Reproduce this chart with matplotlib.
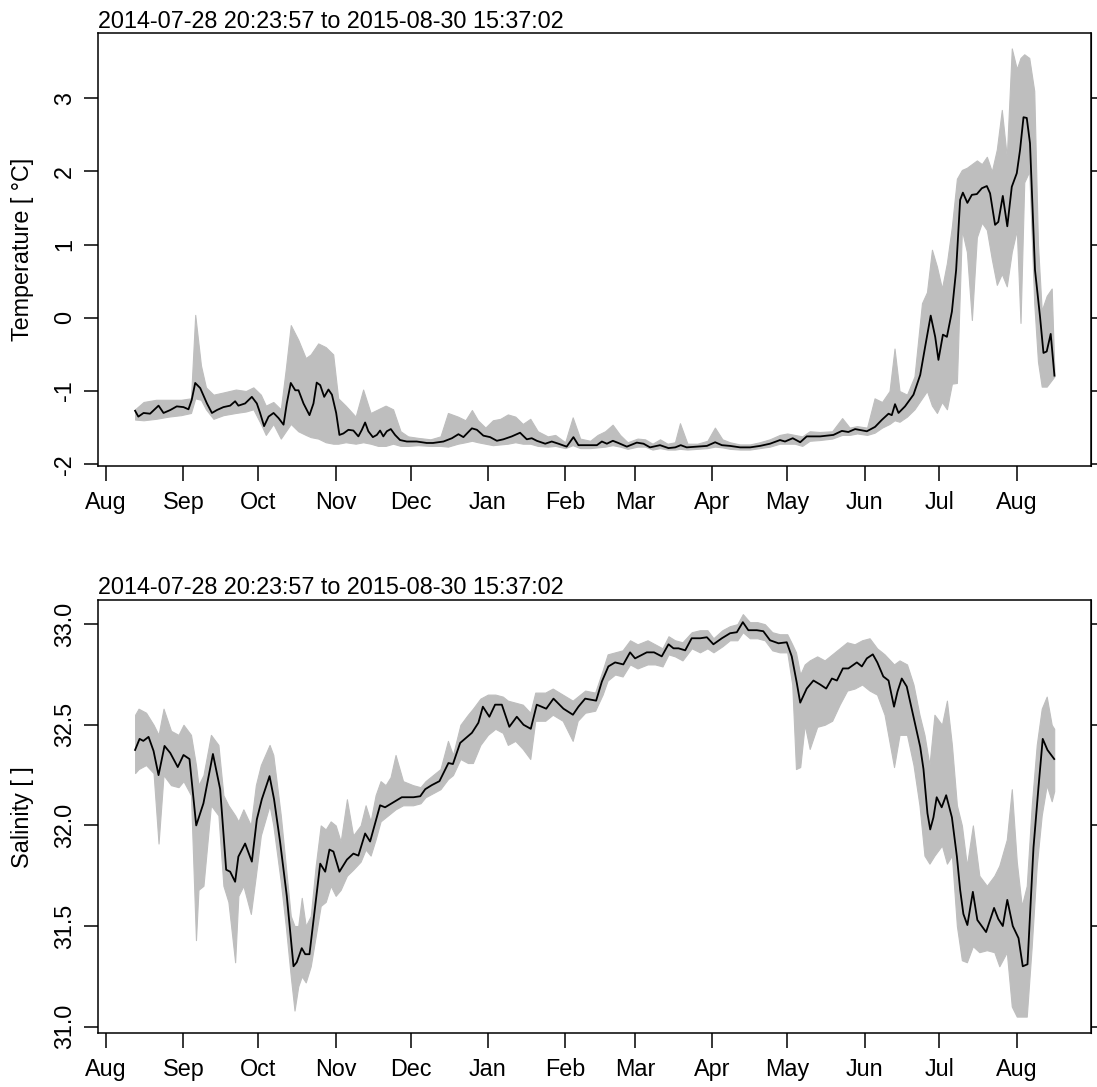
import numpy as np
import matplotlib
matplotlib.use("Agg")
import matplotlib.pyplot as plt
import matplotlib.dates as mdates
from matplotlib.ticker import FixedLocator, FormatStrFormatter

plt.rcParams["font.family"] = ["Liberation Sans", "DejaVu Sans"]
FS = 16.8

# ---- data: days since 2014-08-01 ----
BASE = np.datetime64("2014-08-01T00:00:00")
T_START = np.datetime64("2014-07-28T20:23:57")
T_END = np.datetime64("2015-08-30T15:37:02")
TITLE = "2014-07-28 20:23:57 to 2015-08-30 15:37:02"

# smoothed temperature
temp_day = [11.6, 12.9, 15.0, 17.6, 21.0, 23.0, 25.7, 28.3, 31.0, 33.0, 34.3, 35.7, 37.7,
            40.4, 42.4, 44.4, 47.0, 49.7, 51.7, 53.0, 55.7, 58.4, 60.4, 61.7, 63.3, 65.1,
            67.1, 69.1, 71.1, 72.4, 74.0, 75.8, 77.1, 79.1, 81.5, 83.1, 84.4, 85.8, 87.4,
            89.1, 90.5, 92.2, 93.5, 95.1, 97.1, 99.1, 101.1, 102.5, 103.8, 105.1, 106.9,
            108.5, 109.8, 111.1, 112.5, 114.1, 115.8, 117.8, 120.5, 124.5, 128.5, 131.0,
            135.2, 138.6, 141.2, 143.2, 146.6, 148.6, 151.2, 153.9, 156.6, 159.2, 162.6,
            165.9, 168.6, 170.6, 172.6, 176.0, 178.6, 181.3, 184.6, 187.3, 189.3, 194.0,
            196.7, 198.7, 200.7, 203.1, 205.3, 208.7, 212.7, 215.4, 218.0, 222.0, 225.4,
            228.1, 230.3, 232.7, 236.8, 240.8, 244.1, 246.8, 250.1, 254.1, 258.1, 262.1,
            266.1, 270.1, 272.1, 275.2, 278.2, 280.8, 286.2, 291.5, 294.9, 297.5, 300.2,
            304.9, 308.2, 310.9, 313.6, 314.9, 316.2, 317.6, 320.2, 323.6, 326.3, 328.3,
            330.5, 332.3, 333.6, 335.4, 337.0, 339.0, 340.7, 342.3, 343.4, 345.2, 347.0,
            349.0, 351.0, 353.0, 354.3, 356.3, 357.6, 359.4, 361.2, 363.0, 365.0, 366.3,
            367.7, 369.0, 370.3, 372.3, 374.3, 375.7, 377.0, 378.6, 380.1]
temp_smooth = [-1.27, -1.35, -1.30, -1.31, -1.20, -1.30, -1.26, -1.21, -1.22, -1.25, -1.12,
               -0.89, -0.96, -1.17, -1.30, -1.26, -1.22, -1.20, -1.14, -1.20, -1.17, -1.08,
               -1.17, -1.30, -1.48, -1.35, -1.30, -1.37, -1.46, -1.17, -0.89, -0.99, -0.99,
               -1.17, -1.33, -1.17, -0.885, -0.92, -1.08, -0.98, -1.05, -1.30, -1.60, -1.58,
               -1.53, -1.54, -1.62, -1.53, -1.43, -1.55, -1.63, -1.60, -1.54, -1.62, -1.55,
               -1.52, -1.60, -1.67, -1.69, -1.69, -1.71, -1.71, -1.69, -1.645, -1.59, -1.63,
               -1.51, -1.53, -1.61, -1.63, -1.68, -1.66, -1.62, -1.57, -1.66, -1.645, -1.68,
               -1.72, -1.69, -1.72, -1.76, -1.63, -1.74, -1.74, -1.74, -1.69, -1.72, -1.68,
               -1.71, -1.76, -1.705, -1.72, -1.77, -1.74, -1.78, -1.77, -1.74, -1.77, -1.76,
               -1.75, -1.70, -1.74, -1.75, -1.77, -1.77, -1.75, -1.72, -1.67, -1.69, -1.645,
               -1.70, -1.62, -1.62, -1.60, -1.545, -1.56, -1.52, -1.55, -1.49, -1.395, -1.31,
               -1.33, -1.18, -1.30, -1.21, -1.05, -0.78, -0.39, 0.03, -0.26, -0.575, -0.23,
               -0.26, 0.085, 0.655, 1.61, 1.71, 1.57, 1.68, 1.69, 1.77, 1.80, 1.70, 1.27,
               1.31, 1.665, 1.25, 1.79, 1.975, 2.29, 2.74, 2.73, 2.385, 0.655, 0.02, -0.48,
               -0.46, -0.22, -0.79]

# raw temperature range (low / high) around each day
temp_raw_day = [11.6, 15, 20, 25, 30, 34, 35.7, 38, 40, 43, 47, 52, 56, 59, 62, 64, 67, 70,
                72, 74, 77, 80, 82, 85, 88, 91, 93, 96, 100, 103, 106, 109, 112, 115, 118,
                121, 125, 130, 134, 137, 141, 144, 146.6, 149, 152, 155, 158, 161, 164, 167,
                170, 173, 177, 180, 184, 187, 190, 194, 197, 200, 203, 206, 209, 213, 216,
                219, 222, 225, 228, 230, 233, 237, 241, 244, 247, 250, 254, 258, 262, 266,
                270, 273, 276, 279, 282, 286, 291, 295, 298, 301, 305, 308, 311, 314, 316,
                318, 321, 324, 327, 329, 331, 333, 335, 337, 339, 341, 343, 345, 347, 349,
                351, 353, 355, 357, 359, 361, 363, 365, 366.5, 368, 370, 372, 373.5, 375,
                377, 379, 380.1]
temp_raw_lo = [-1.39, -1.40, -1.38, -1.35, -1.33, -1.30, -1.10, -1.12, -1.25, -1.38, -1.33,
               -1.30, -1.28, -1.25, -1.45, -1.60, -1.45, -1.65, -1.55, -1.45, -1.55, -1.60,
               -1.63, -1.65, -1.70, -1.72, -1.72, -1.70, -1.72, -1.70, -1.72, -1.75, -1.75,
               -1.72, -1.75, -1.75, -1.74, -1.75, -1.75, -1.76, -1.72, -1.70, -1.68, -1.70,
               -1.72, -1.74, -1.73, -1.72, -1.70, -1.72, -1.72, -1.75, -1.76, -1.75, -1.78,
               -1.74, -1.78, -1.78, -1.77, -1.76, -1.74, -1.76, -1.79, -1.76, -1.76, -1.80,
               -1.78, -1.80, -1.80, -1.79, -1.80, -1.79, -1.78, -1.76, -1.77, -1.79, -1.80,
               -1.80, -1.78, -1.76, -1.72, -1.72, -1.72, -1.75, -1.68, -1.67, -1.65, -1.60,
               -1.60, -1.58, -1.60, -1.57, -1.50, -1.45, -1.40, -1.42, -1.35, -1.25, -1.10,
               -1.00, -1.20, -1.30, -1.15, -1.25, -0.90, -0.89, 1.20, 0.90, -0.03, 1.10,
               1.30, 1.20, 0.80, 0.45, 0.60, 0.43, 0.90, 1.20, -0.07, 1.85, 2.00, 0.20,
               -0.60, -0.94, -0.94, -0.85, -0.80]
temp_raw_hi = [-1.25, -1.15, -1.12, -1.12, -1.12, -1.10, 0.04, -0.65, -0.95, -1.05, -1.02,
               -0.98, -1.00, -0.95, -1.05, -1.20, -1.15, -1.25, -0.70, -0.10, -0.30, -0.55,
               -0.50, -0.35, -0.40, -0.50, -1.10, -1.20, -1.35, -0.98, -1.30, -1.25, -1.20,
               -1.25, -1.55, -1.62, -1.64, -1.66, -1.62, -1.30, -1.35, -1.40, -1.26, -1.40,
               -1.50, -1.40, -1.38, -1.32, -1.35, -1.45, -1.38, -1.55, -1.62, -1.60, -1.70,
               -1.36, -1.65, -1.68, -1.60, -1.55, -1.46, -1.60, -1.70, -1.65, -1.66, -1.72,
               -1.66, -1.72, -1.70, -1.44, -1.72, -1.72, -1.68, -1.50, -1.66, -1.70, -1.73,
               -1.73, -1.70, -1.66, -1.60, -1.58, -1.60, -1.62, -1.55, -1.56, -1.55, -1.37,
               -1.50, -1.48, -1.50, -1.10, -1.15, -1.00, -0.42, -1.00, -1.05, -0.80, 0.20,
               0.35, 0.93, 0.70, 0.40, 0.75, 1.25, 1.90, 2.02, 2.05, 2.10, 2.15, 2.10, 2.20,
               2.00, 2.30, 2.84, 2.20, 3.68, 3.40, 3.55, 3.60, 3.55, 3.10, 1.00, 0.10, 0.30,
               0.40, -0.75]

# smoothed salinity
sal_day = [11.6, 13.4, 14.9, 17.0, 19.0, 21.0, 23.4, 25.7, 28.7, 31.0, 33.4, 36.1, 39.0,
           42.8, 45.7, 48.1, 49.7, 51.7, 53.0, 55.7, 58.4, 60.4, 62.4, 65.5, 67.3, 69.7,
           72.4, 75.1, 76.4, 78.4, 79.8, 81.5, 83.8, 85.8, 87.8, 89.5, 91.1, 93.5, 96.5,
           99.1, 101.1, 103.8, 105.8, 107.8, 109.8, 111.8, 114.5, 118.5, 123.2, 125.9,
           127.9, 130.5, 133.6, 137.2, 139.0, 141.9, 146.6, 149.2, 151.0, 153.6, 155.9,
           158.6, 161.6, 164.6, 167.3, 170.2, 172.6, 176.4, 179.3, 183.3, 187.1, 189.3,
           192.0, 196.4, 198.7, 201.3, 204.0, 207.3, 210.0, 212.0, 216.7, 219.6, 222.7,
           225.4, 227.4, 229.4, 232.1, 234.7, 238.1, 240.8, 243.4, 246.8, 250.1, 252.8,
           255.2, 257.4, 260.8, 263.4, 266.1, 269.5, 272.8, 274.8, 276.8, 278.2, 280.8,
           283.5, 286.2, 288.6, 290.9, 292.9, 295.3, 297.5, 300.9, 302.9, 304.9, 307.3,
           309.1, 311.5, 313.6, 315.8, 317.2, 318.9, 320.9, 323.6, 326.3, 327.6, 329.2,
           330.3, 331.6, 332.9, 334.9, 336.7, 339.0, 341.0, 342.3, 343.6, 345.2, 347.4,
           349.2, 352.7, 355.9, 357.6, 359.4, 361.2, 363.4, 365.7, 367.4, 369.3, 371.7,
           373.7, 375.4, 377.3, 380.0]
sal_smooth = [32.375, 32.43, 32.42, 32.44, 32.37, 32.25, 32.395, 32.36, 32.29, 32.35, 32.33,
              32.00, 32.11, 32.355, 32.18, 31.78, 31.77, 31.72, 31.845, 31.91, 31.82, 32.03,
              32.13, 32.245, 32.13, 31.92, 31.65, 31.30, 31.32, 31.39, 31.36, 31.36, 31.60,
              31.81, 31.77, 31.88, 31.87, 31.77, 31.83, 31.86, 31.85, 31.96, 31.92, 32.01,
              32.10, 32.09, 32.11, 32.14, 32.14, 32.145, 32.18, 32.20, 32.22, 32.31, 32.305,
              32.41, 32.46, 32.51, 32.59, 32.54, 32.60, 32.60, 32.49, 32.54, 32.50, 32.48,
              32.60, 32.58, 32.63, 32.58, 32.55, 32.59, 32.63, 32.62, 32.715, 32.79, 32.81,
              32.80, 32.86, 32.83, 32.86, 32.86, 32.84, 32.90, 32.88, 32.88, 32.87, 32.93,
              32.93, 32.935, 32.90, 32.93, 32.955, 32.96, 33.01, 32.97, 32.97, 32.965, 32.92,
              32.905, 32.91, 32.84, 32.71, 32.61, 32.68, 32.72, 32.70, 32.68, 32.73, 32.72,
              32.78, 32.78, 32.81, 32.79, 32.83, 32.85, 32.81, 32.74, 32.72, 32.59, 32.665,
              32.73, 32.69, 32.54, 32.39, 32.28, 32.06, 31.98, 32.04, 32.14, 32.09, 32.15,
              32.04, 31.845, 31.68, 31.56, 31.505, 31.67, 31.53, 31.47, 31.59, 31.535, 31.50,
              31.63, 31.50, 31.44, 31.30, 31.31, 31.89, 32.19, 32.43, 32.375, 32.33]

# raw salinity range (low / high) around each day
sal_raw_day = [11.6, 13, 16, 19, 21, 23, 26, 29, 31, 34, 36, 37, 39, 42, 45, 47, 49, 51.7,
               53, 55, 58, 60, 62, 65.5, 67, 70, 72, 74, 75.5, 77, 78.4, 80, 82, 84, 86, 88,
               90, 92, 94, 96.5, 99, 102, 104, 106, 108, 110, 112, 114, 116, 119, 123, 126,
               128, 131, 134, 137, 139, 142, 145, 147, 150, 153, 156, 159, 161, 164, 167,
               170, 172, 176, 179, 183, 187, 189, 192, 196, 199, 201, 204, 207, 210, 213,
               217, 220, 223, 225.4, 228, 231, 234.7, 238, 241, 243.4, 247, 250, 253, 255.2,
               258, 261, 264, 267, 270, 273, 275, 276.5, 278.2, 280, 282, 285, 288, 291, 294,
               297, 300, 303, 306, 309, 312, 315.8, 318, 321, 323.6, 326, 328, 330, 332, 335,
               337, 339, 341, 343, 345, 347.4, 350, 353, 356, 358, 361, 363, 365, 367, 369,
               371, 373, 375, 377, 379, 380]
sal_raw_lo = [32.26, 32.28, 32.30, 32.26, 31.91, 32.25, 32.20, 32.19, 32.22, 32.15, 31.43,
              31.68, 31.70, 32.10, 32.05, 31.70, 31.62, 31.32, 31.65, 31.70, 31.56, 31.75,
              31.95, 32.10, 32.00, 31.72, 31.50, 31.25, 31.08, 31.20, 31.25, 31.22, 31.30,
              31.45, 31.60, 31.62, 31.70, 31.65, 31.68, 31.75, 31.78, 31.82, 31.88, 31.85,
              31.93, 32.02, 32.04, 32.06, 32.08, 32.10, 32.10, 32.11, 32.14, 32.16, 32.18,
              32.23, 32.25, 32.33, 32.31, 32.31, 32.40, 32.45, 32.48, 32.46, 32.40, 32.42,
              32.38, 32.33, 32.52, 32.52, 32.55, 32.52, 32.42, 32.52, 32.56, 32.57, 32.65,
              32.72, 32.75, 32.74, 32.80, 32.78, 32.80, 32.80, 32.79, 32.85, 32.84, 32.82,
              32.88, 32.86, 32.88, 32.86, 32.89, 32.92, 32.92, 32.96, 32.93, 32.93, 32.92,
              32.87, 32.86, 32.86, 32.70, 32.28, 32.29, 32.50, 32.38, 32.49, 32.50, 32.52,
              32.60, 32.67, 32.68, 32.70, 32.67, 32.65, 32.55, 32.29, 32.45, 32.45, 32.30,
              32.10, 31.85, 31.81, 31.85, 31.90, 31.81, 31.85, 31.50, 31.33, 31.32, 31.40,
              31.37, 31.38, 31.37, 31.30, 31.37, 31.10, 31.05, 31.05, 31.05, 31.40, 31.80,
              32.05, 32.20, 32.12, 32.17]
sal_raw_hi = [32.55, 32.58, 32.56, 32.50, 32.45, 32.58, 32.47, 32.45, 32.50, 32.45, 32.30,
              32.20, 32.25, 32.45, 32.40, 32.15, 32.10, 32.05, 32.02, 32.08, 32.00, 32.20,
              32.30, 32.40, 32.35, 32.05, 31.80, 31.55, 31.50, 31.50, 31.64, 31.50, 31.55,
              31.80, 32.00, 31.98, 32.02, 32.00, 31.92, 32.13, 31.95, 32.00, 32.10, 32.02,
              32.15, 32.22, 32.20, 32.24, 32.35, 32.22, 32.20, 32.19, 32.22, 32.25, 32.28,
              32.42, 32.35, 32.50, 32.55, 32.58, 32.63, 32.65, 32.65, 32.64, 32.62, 32.61,
              32.60, 32.56, 32.66, 32.66, 32.68, 32.65, 32.62, 32.64, 32.67, 32.66, 32.77,
              32.85, 32.86, 32.87, 32.92, 32.90, 32.92, 32.90, 32.88, 32.94, 32.92, 32.91,
              32.96, 32.97, 32.97, 32.93, 32.97, 32.99, 33.00, 33.05, 33.01, 33.01, 33.00,
              32.96, 32.95, 32.95, 32.90, 32.86, 32.75, 32.80, 32.82, 32.84, 32.82, 32.85,
              32.88, 32.91, 32.90, 32.92, 32.93, 32.88, 32.85, 32.80, 32.82, 32.80, 32.70,
              32.55, 32.45, 32.30, 32.55, 32.50, 32.62, 32.40, 32.10, 32.00, 31.80, 32.00,
              31.75, 31.70, 31.75, 31.80, 31.93, 32.18, 31.82, 31.60, 31.70, 32.10, 32.40,
              32.58, 32.64, 32.50, 32.48]

temp_ticks = [-2, -1, 0, 1, 2, 3]
sal_ticks = [31.0, 31.5, 32.0, 32.5, 33.0]


def to_time(days):
    secs = np.round(np.asarray(days, dtype=float) * 86400).astype("int64")
    return BASE + secs.astype("timedelta64[s]")


def draw_panel(ax, day, smooth, raw_day, raw_lo, raw_hi, ylim, yticks, yfmt, ylabel, title_pad):
    ax.fill_between(to_time(raw_day), raw_lo, raw_hi, color="#bebebe", lw=0.8,
                    edgecolor="#bebebe", zorder=1)
    ax.plot(to_time(day), smooth, color="black", lw=1.3, zorder=2)
    ax.set_xlim(T_START, T_END)
    ax.set_ylim(*ylim)
    ax.xaxis.set_major_locator(mdates.MonthLocator())
    ax.xaxis.set_major_formatter(mdates.DateFormatter("%b"))
    ax.yaxis.set_major_locator(FixedLocator(yticks))
    ax.yaxis.set_major_formatter(FormatStrFormatter(yfmt))
    for lab in ax.get_yticklabels():
        lab.set_rotation(90)
        lab.set_va("center")
    ax.tick_params(axis="both", direction="out", width=1.1, labelsize=FS, colors="black")
    ax.tick_params(axis="y", length=10, pad=6)
    ax.tick_params(axis="x", length=11, pad=7)
    for sp in ax.spines.values():
        sp.set_linewidth(1.1)
    sec = ax.secondary_yaxis("right")
    sec.yaxis.set_major_locator(FixedLocator(yticks))
    sec.tick_params(direction="out", length=4.5, width=1.1, labelright=False)
    ax.set_ylabel(ylabel, fontsize=FS)
    ax.yaxis.set_label_coords(-0.065, 0.5)
    ax.set_title(TITLE, loc="left", fontsize=FS, pad=title_pad)


fig = plt.figure(figsize=(10.97, 10.87), dpi=100)
ax1 = fig.add_axes([0.0896, 0.5716, 0.9047, 0.3980])
ax2 = fig.add_axes([0.0896, 0.0494, 0.9047, 0.3986])

draw_panel(ax1, temp_day, temp_smooth, temp_raw_day, temp_raw_lo, temp_raw_hi,
           (-2.02, 3.89), temp_ticks, "%g", "Temperature [ \u00b0C]", 3.5)
draw_panel(ax2, sal_day, sal_smooth, sal_raw_day, sal_raw_lo, sal_raw_hi,
           (30.967, 33.12), sal_ticks, "%.1f", "Salinity [ ]", 4.0)

fig.savefig("out.png", dpi=100)
